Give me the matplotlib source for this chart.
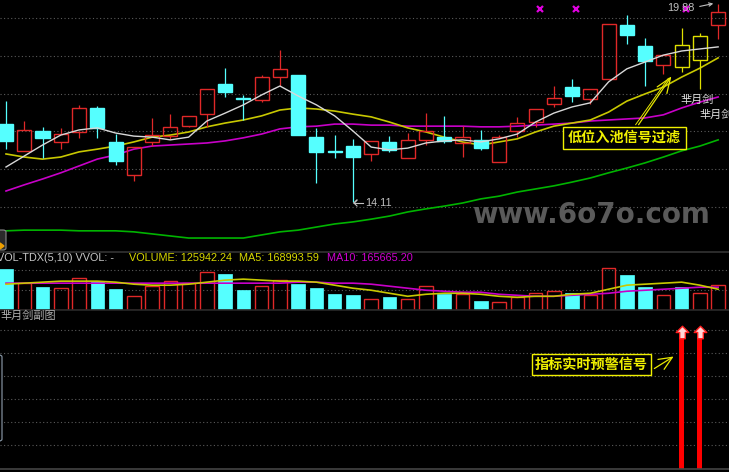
import matplotlib
matplotlib.use('Agg')
import matplotlib.pyplot as plt
from matplotlib.patches import Rectangle, FancyBboxPatch
from matplotlib.path import Path
import numpy as np

# ---------------- data ----------------
opens = [16.38, 15.60, 16.18, 15.86, 16.15, 16.85, 15.86, 14.90, 15.86, 16.03,
         16.32, 16.67, 17.55, 17.14, 17.08, 17.75, 17.81, 16.00, 15.60, 15.74,
         15.51, 15.86, 15.39, 15.92, 16.00, 15.83, 15.92, 15.28, 16.18, 16.44,
         16.97, 17.46, 17.11, 17.69, 19.27, 18.66, 18.10, 18.68, 18.25, 19.27]
highs = [17.05, 16.47, 16.30, 16.27, 16.94, 16.91, 16.09, 15.71, 16.56, 16.67,
         16.62, 17.40, 18.01, 17.23, 17.81, 18.54, 17.81, 16.27, 16.06, 15.95,
         15.89, 16.03, 16.12, 16.70, 16.62, 16.32, 16.21, 16.06, 16.59, 16.82,
         17.49, 17.69, 17.40, 19.30, 19.56, 18.89, 18.39, 19.18, 19.03, 19.88]
lows = [15.65, 15.59, 15.39, 15.65, 15.97, 15.97, 15.19, 14.72, 15.74, 15.95,
        16.30, 16.30, 17.17, 16.50, 17.02, 17.49, 16.06, 14.66, 15.39, 14.11,
        15.30, 15.57, 15.39, 15.77, 15.83, 15.42, 15.63, 15.28, 16.00, 16.30,
        16.88, 17.02, 16.97, 17.69, 18.71, 17.49, 17.84, 17.90, 17.40, 18.86]
closes = [15.89, 16.21, 15.97, 16.09, 16.85, 16.27, 15.30, 15.71, 16.06, 16.30,
          16.62, 17.40, 17.32, 17.11, 17.75, 17.99, 16.06, 15.57, 15.57, 15.42,
          15.89, 15.63, 15.92, 16.18, 15.89, 16.00, 15.68, 16.00, 16.41, 16.82,
          17.14, 17.20, 17.40, 19.30, 18.98, 18.22, 18.39, 18.04, 18.95, 19.65]

ma5 = [15.13, 15.45, 15.77, 16.06, 16.21, 16.27, 16.12, 16.03, 16.00, 15.92,
       16.00, 16.47, 16.70, 16.94, 17.23, 17.49, 17.20, 16.94, 16.62, 16.18,
       15.71, 15.63, 15.68, 15.83, 15.89, 15.92, 15.86, 15.95, 16.09, 16.44,
       16.70, 16.88, 17.00, 17.61, 17.99, 18.19, 18.39, 18.51, 18.57, 18.63]
ma10 = [15.51, 15.42, 15.36, 15.42, 15.57, 15.65, 15.74, 15.86, 16.00, 16.06,
        16.15, 16.30, 16.41, 16.50, 16.62, 16.79, 16.85, 16.82, 16.76, 16.67,
        16.59, 16.44, 16.27, 16.15, 16.00, 15.86, 15.77, 15.86, 15.95, 16.15,
        16.32, 16.41, 16.50, 16.73, 17.05, 17.26, 17.46, 17.75, 18.01, 18.31]
ma20 = [14.43, 14.61, 14.78, 14.96, 15.16, 15.36, 15.48, 15.65, 15.74, 15.77,
        15.80, 15.83, 15.89, 15.98, 16.09, 16.24, 16.30, 16.32, 16.38, 16.38,
        16.35, 16.35, 16.32, 16.32, 16.32, 16.32, 16.30, 16.30, 16.32, 16.35,
        16.38, 16.41, 16.47, 16.50, 16.53, 16.56, 16.65, 16.85, 17.02, 17.17]
ma60 = [13.27, 13.29, 13.29, 13.29, 13.27, 13.27, 13.27, 13.24, 13.18, 13.12,
        13.06, 13.06, 13.06, 13.06, 13.15, 13.24, 13.29, 13.38, 13.47, 13.53,
        13.61, 13.70, 13.82, 13.91, 13.99, 14.08, 14.20, 14.28, 14.40, 14.49,
        14.58, 14.69, 14.81, 14.96, 15.10, 15.25, 15.42, 15.60, 15.74, 15.92]

volume = [205000, 135000, 115000, 110000, 160000, 145000, 105000, 70000, 120000, 145000,
          135000, 190000, 180000, 100000, 120000, 150000, 130000, 110000, 80000, 75000,
          55000, 65000, 55000, 120000, 80000, 80000, 45000, 40000, 65000, 85000,
          95000, 85000, 75000, 210000, 175000, 115000, 75000, 115000, 85000, 125942.24]
vol_ma5 = [128000, 133000, 138000, 143000, 143000, 143000, 138000, 128000, 123000, 123000,
           128000, 138000, 148000, 153000, 148000, 143000, 143000, 138000, 123000, 108000,
           98000, 83000, 68000, 78000, 83000, 83000, 78000, 68000, 63000, 68000,
           68000, 78000, 83000, 103000, 123000, 128000, 133000, 138000, 123000, 103000]
vol_ma10 = [133000] * 16 + [138000, 138000, 133000, 133000, 128000, 118000, 108000, 98000,
                            93000, 88000, 88000, 78000, 73000, 68000, 68000, 73000,
                            78000, 83000, 93000, 98000, 103000, 108000, 113000, 113000]

signal_idx = [37, 38]          # highlighted candles / alert bars
signal_val = [1.0, 1.0]
mark_idx = [29, 31, 37]        # magenta x marks at top
low_label = "14.11"
high_label = "19.88"
vol_header = [("VOL-TDX(5,10) VVOL: -", '#c8c8c8'),
              ("VOLUME: 125942.24", '#d8d800'),
              ("MA5: 168993.59", '#d8d800'),
              ("MA10: 165665.20", '#d000d0')]

# ---------------- layout ----------------
W, H = 729, 472
fig = plt.figure(figsize=(W / 100, H / 100), dpi=100, facecolor='black')


def fx(px):
    return px / W


def fy(py):
    return 1 - py / H


n = len(opens)
x = np.arange(n)
XL = (-6 / 18.26, (W - 6) / 18.26)

ax1 = fig.add_axes([0, fy(252), 1, 252 / H])
ax2 = fig.add_axes([0, fy(310), 1, 58 / H])
ax3 = fig.add_axes([0, fy(469), 1, 159 / H])
for ax in (ax1, ax2, ax3):
    ax.set_facecolor('black')
    ax.set_xlim(*XL)
    ax.axis('off')

ax1.set_ylim(12.653, 19.996)
ax2.set_ylim(0, 287500)
ax3.set_ylim(0, 159 / 134)

grid_kw = dict(color='#5a5a5a', lw=0.8, linestyle=(0, (1, 2.2)), zorder=0)
for p in [19.47, 18.36, 17.26, 16.18, 15.07, 13.96]:
    ax1.axhline(p, **grid_kw)
for v in [100000, 200000]:
    ax2.axhline(v, **grid_kw)
for py in [330, 353, 376, 399, 422, 445]:
    ax3.axhline((469 - py) / 134, **grid_kw)

RED = '#e02828'
CYAN = '#55ffff'
YEL = '#e0e000'
bw = 0.77

# candles
for i in range(n):
    o, h, l, c = opens[i], highs[i], lows[i], closes[i]
    top, bot = max(o, c), min(o, c)
    if i in signal_idx:
        col, fc = YEL, 'none'
    elif c >= o:
        col, fc = RED, 'none'
    else:
        col, fc = CYAN, CYAN
    ax1.vlines(i, top, h, color=col, lw=0.9, zorder=3)
    ax1.vlines(i, l, bot, color=col, lw=0.9, zorder=3)
    ax1.add_patch(Rectangle((i - bw / 2, bot), bw, max(top - bot, 0.03),
                            facecolor=fc, edgecolor=col, lw=1.0, zorder=4))

ax1.plot(x, ma60, color='#00b400', lw=1.2, zorder=2)
ax1.plot(x, ma20, color='#c800c8', lw=1.2, zorder=2)
ax1.plot(x, ma10, color='#c8c800', lw=1.2, zorder=2)
ax1.plot(x, ma5, color='#d8d8d8', lw=1.0, zorder=5)

# magenta x marks
ax1.plot(np.array(mark_idx) + 0.22, [19.73] * len(mark_idx), linestyle='none',
         marker='x', ms=4, mew=1.6, color='#e000e0', zorder=6)

# volume bars
for i in range(n):
    if closes[i] >= opens[i]:
        ax2.add_patch(Rectangle((i - 0.37, 0), 0.74, volume[i], facecolor='none',
                                edgecolor=RED, lw=1.0, zorder=3))
    else:
        ax2.add_patch(Rectangle((i - 0.37, 0), 0.74, volume[i], facecolor=CYAN,
                                edgecolor=CYAN, lw=0.5, zorder=3))
ax2.plot(x, vol_ma10, color='#c800c8', lw=1.2, zorder=4)
ax2.plot(x, vol_ma5, color='#c8c800', lw=1.2, zorder=5)

# alert bars
ax3.bar(signal_idx, signal_val, width=0.27, color='#ff0000', zorder=3)
arrow_path = Path([(0, 1), (1, 0), (0.45, 0), (0.45, -1), (-0.45, -1), (-0.45, 0),
                   (-1, 0), (0, 1)], closed=True)
ax3.plot(signal_idx, [v + 0.02 for v in signal_val], linestyle='none', marker=arrow_path,
         ms=9, mfc='#ffd8d8', mec='#ff2020', mew=1.0, zorder=5)

# ---------------- decorations / text ----------------
for py, col in [(252, '#333333'), (310, '#2a2a2a'), (469, '#444444')]:
    fig.add_artist(plt.Line2D([0, 1], [fy(py), fy(py)], color=col, lw=1.2,
                              transform=fig.transFigure))

LAT = 'Liberation Sans'
CJK = ['Noto Sans CJK SC', 'DejaVu Sans']

xs = [-3, 129, 239, 327]
for (t, col), px in zip(vol_header, xs):
    fig.text(fx(px), fy(258), t, color=col, fontsize=7.8, family=LAT,
             ha='left', va='center')

fig.text(fx(0), fy(316), "芈月剑副图", color='#b0b0b0', fontsize=8, family=CJK,
         ha='left', va='center')

# watermark
fig.text(fx(710), fy(215), "www.6o7o.com", color='#5a5a5a', fontsize=20,
         fontweight='bold', family='DejaVu Sans', ha='right', va='center', zorder=1)

# low / high labels
fig.text(fx(365), fy(203), low_label, color='#c0c0c0', fontsize=7.8, family=LAT,
         ha='left', va='center')
fig.add_artist(plt.Line2D([fx(354), fx(363)], [fy(203), fy(203)], color='#c0c0c0', lw=0.8,
                          transform=fig.transFigure))
fig.add_artist(plt.Line2D([fx(354), fx(357), fx(354), fx(357)],
                          [fy(203), fy(200), fy(203), fy(206)], color='#c0c0c0', lw=0.8,
                          transform=fig.transFigure))
fig.text(fx(667), fy(8), high_label, color='#c0c0c0', fontsize=7.8, family=LAT,
         ha='left', va='center')
ax1.annotate('', xy=(fx(716), fy(3)), xycoords='figure fraction',
             xytext=(fx(697), fy(7)), textcoords='figure fraction',
             arrowprops=dict(arrowstyle='->', color='#c0c0c0', lw=0.8,
                             mutation_scale=6))

# 芈月剑 labels
fig.text(fx(697), fy(100), "芈月剑", color='#e0e0e0', fontsize=8, family=CJK,
         ha='center', va='center')
fig.text(fx(699), fy(115), "芈月剑", color='#e0e0e0', fontsize=8, family=CJK,
         ha='left', va='center')

# boxed annotations
def boxed(x0, y0, x1, y1, text):
    fig.add_artist(Rectangle((fx(x0), fy(y1)), (x1 - x0) / W, (y1 - y0) / H,
                             facecolor='black', edgecolor='#f0f000', lw=1.0,
                             transform=fig.transFigure, zorder=8))
    fig.text(fx((x0 + x1) / 2), fy((y0 + y1) / 2), text, color='#f0f000',
             fontsize=10.2, family=CJK, fontweight='bold', ha='center', va='center',
             zorder=9)


boxed(563, 127, 686, 149, "低位入池信号过滤")
ax1.annotate('', xy=(fx(673), fy(74)), xycoords='figure fraction',
             xytext=(fx(637), fy(127)), textcoords='figure fraction',
             arrowprops=dict(arrowstyle='->,head_length=0.9,head_width=0.35',
                             color='#e8e800', lw=0.9, mutation_scale=12))
ax1.annotate('', xy=(fx(670), fy(76)), xycoords='figure fraction',
             xytext=(fx(634), fy(127)), textcoords='figure fraction',
             arrowprops=dict(arrowstyle='-', color='#e8e800', lw=0.7))

boxed(532, 354, 651, 375, "指标实时预警信号")
ax3.annotate('', xy=(fx(676), fy(355)), xycoords='figure fraction',
             xytext=(fx(652), fy(370)), textcoords='figure fraction',
             arrowprops=dict(arrowstyle='->,head_length=0.8,head_width=0.35',
                             color='#e8e800', lw=0.9, mutation_scale=12))

# left small widgets
fig.add_artist(FancyBboxPatch((fx(-4), fy(250)), 10 / W, 20 / H,
                              boxstyle='round,pad=0,rounding_size=0.004',
                              facecolor='#2a2a2a', edgecolor='#8a8a8a', lw=0.8,
                              transform=fig.transFigure))
fig.add_artist(plt.Polygon([(fx(0), fy(243)), (fx(4), fy(246)), (fx(0), fy(249))],
                           closed=True, color='#f0a000', transform=fig.transFigure))
fig.add_artist(FancyBboxPatch((fx(-4), fy(441)), 6 / W, 86 / H,
                              boxstyle='round,pad=0,rounding_size=0.004',
                              facecolor='black', edgecolor='#90a0b0', lw=0.8,
                              transform=fig.transFigure))

fig.savefig('out.png', dpi=100, facecolor='black')
